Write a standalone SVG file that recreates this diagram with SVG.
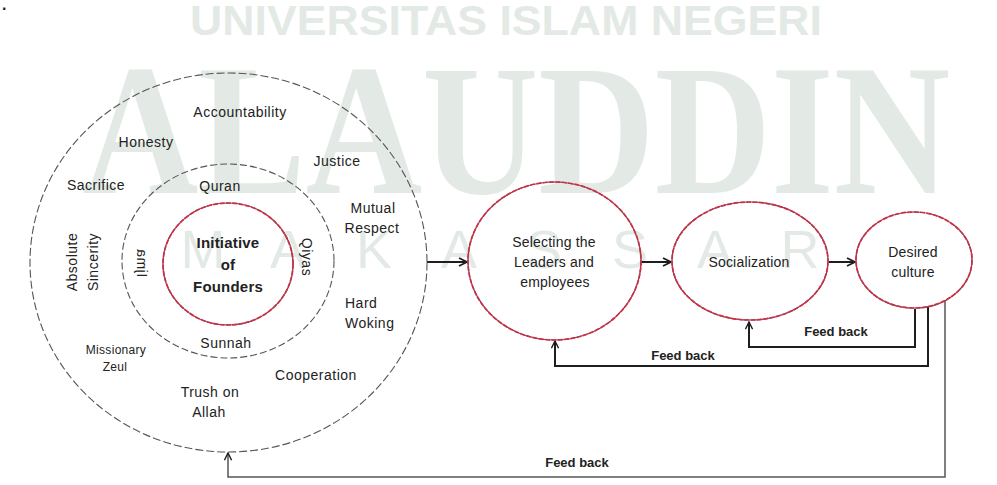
<svg xmlns="http://www.w3.org/2000/svg" width="997" height="485" viewBox="0 0 997 485">
<style>
.wm{fill:#e3eae5;font-family:"Liberation Sans",Arial,sans-serif;font-weight:bold}
.wms{fill:#e3eae5;font-family:"Liberation Serif","Times New Roman",serif;font-weight:bold}
.t{font-family:"Liberation Sans",Arial,sans-serif;font-size:14px;fill:#222;letter-spacing:0.5px;text-anchor:middle}
.ts{font-size:12px;letter-spacing:0.3px}
.tb{font-weight:bold;font-size:15px;letter-spacing:0.2px}
.fb{font-family:"Liberation Sans",Arial,sans-serif;font-size:13px;font-weight:bold;fill:#222;text-anchor:middle}
.ring{fill:none;stroke:#555;stroke-width:1.1;stroke-dasharray:8 3}
.redbase{fill:none;stroke:#555;stroke-width:1.2}
.red{fill:none;stroke:#d62a45;stroke-width:1.7;stroke-dasharray:5 1.4}
.ln{fill:none;stroke:#1e1e1e;stroke-width:2}
.ln2{fill:none;stroke:#555;stroke-width:1.5}
</style>
<defs>
<marker id="arr" viewBox="0 0 10 10" refX="9" refY="5" markerWidth="10" markerHeight="10" orient="auto" markerUnits="userSpaceOnUse">
<path d="M1,1 L9,5 L1,9" fill="none" stroke="#1e1e1e" stroke-width="1.8"/>
</marker>
<marker id="arrs" viewBox="0 0 10 10" refX="9" refY="5" markerWidth="9" markerHeight="9" orient="auto" markerUnits="userSpaceOnUse">
<path d="M1,1 L9,5 L1,9" fill="none" stroke="#1e1e1e" stroke-width="1.6"/>
</marker>
</defs>
<rect width="997" height="485" fill="#fff"/>
<g id="watermark">
<text class="wm" x="190" y="35" font-size="42" textLength="632" lengthAdjust="spacingAndGlyphs">UNIVERSITAS ISLAM NEGERI</text>
<text class="wms" x="82" y="193" font-size="186" textLength="868" lengthAdjust="spacingAndGlyphs">ALAUDDIN</text>
<text class="wm" style="font-weight:normal" y="268" font-size="54" text-anchor="middle" x="203 288 374 459 544 630 715 800">MAKASSAR</text>
</g>
<text x="2" y="10" font-family="Liberation Sans,Arial,sans-serif" font-size="16" font-weight="bold" fill="#222">.</text>
<g id="connectors">
<line class="ln" x1="427" y1="262" x2="467" y2="262" marker-end="url(#arr)"/>
<line class="ln" x1="641" y1="262" x2="671" y2="262" marker-end="url(#arr)"/>
<line class="ln" x1="829" y1="262" x2="855" y2="262" marker-end="url(#arr)"/>
<polyline class="ln" points="915,309 915,347 749,347 749,322" marker-end="url(#arrs)"/>
<polyline class="ln" points="928,307 928,366 555,366 555,341" marker-end="url(#arrs)"/>
<polyline class="ln2" points="945,301 945,477 228,477 228,453" marker-end="url(#arrs)"/>
<text class="fb" x="836" y="336">Feed back</text>
<text class="fb" x="683" y="360">Feed back</text>
<text class="fb" x="577" y="467">Feed back</text>
</g>
<g id="values-ring">
<ellipse class="ring" cx="228.5" cy="262.5" rx="198.5" ry="189.5"/>
<text class="t" x="240" y="117">Accountability</text>
<text class="t" x="146" y="147">Honesty</text>
<text class="t" x="337" y="166">Justice</text>
<text class="t" x="96" y="190">Sacrifice</text>
<text class="t" x="373" y="213">Mutual</text>
<text class="t" x="372" y="233">Respect</text>
<text class="t" x="77" y="262" transform="rotate(-90 77 262)">Absolute</text>
<text class="t" x="98" y="262" transform="rotate(-90 98 262)">Sincerity</text>
<text class="t" x="345" y="308" style="text-anchor:start">Hard</text>
<text class="t" x="345" y="328" style="text-anchor:start">Woking</text>
<text class="t ts" x="116" y="354">Missionary</text>
<text class="t ts" x="115" y="371">Zeul</text>
<text class="t" x="316" y="380">Cooperation</text>
<text class="t" x="210" y="397">Trush on</text>
<text class="t" x="209" y="417">Allah</text>
</g>
<g id="sources-ring">
<ellipse class="ring" cx="228" cy="261" rx="106" ry="97" style="stroke-dasharray:7 3"/>
<text class="t" x="220" y="191">Quran</text>
<text class="t" x="226" y="348">Sunnah</text>
<text class="t" transform="matrix(0,-1,-1,0,137,263)" x="0" y="0">Ijma</text>
<text class="t" transform="translate(302,257) rotate(90)" x="0" y="0">Qiyas</text>
</g>
<g id="initiative">
<ellipse class="redbase" cx="228" cy="264" rx="65" ry="61"/>
<ellipse class="red" cx="228" cy="264" rx="65" ry="61"/>
<text class="t tb" x="228" y="248">Initiative</text>
<text class="t tb" x="228" y="270">of</text>
<text class="t tb" x="228" y="292">Founders</text>
</g>
<g id="selecting">
<ellipse class="redbase" cx="554.5" cy="261" rx="86.5" ry="79"/>
<ellipse class="red" cx="554.5" cy="261" rx="86.5" ry="79"/>
<text class="t" style="letter-spacing:0.2px" x="554" y="247">Selecting the</text>
<text class="t" style="letter-spacing:0.2px" x="554" y="267">Leaders and</text>
<text class="t" style="letter-spacing:0.2px" x="555" y="287">employees</text>
</g>
<g id="socialization">
<ellipse class="redbase" cx="750" cy="261" rx="78" ry="59"/>
<ellipse class="red" cx="750" cy="261" rx="78" ry="59"/>
<text class="t" style="letter-spacing:0.2px" x="749" y="267">Socialization</text>
</g>
<g id="desired">
<ellipse class="redbase" cx="914" cy="260" rx="58" ry="48"/>
<ellipse class="red" cx="914" cy="260" rx="58" ry="48"/>
<text class="t" style="letter-spacing:0.2px" x="913" y="257">Desired</text>
<text class="t" style="letter-spacing:0.2px" x="913" y="277">culture</text>
</g>
</svg>
